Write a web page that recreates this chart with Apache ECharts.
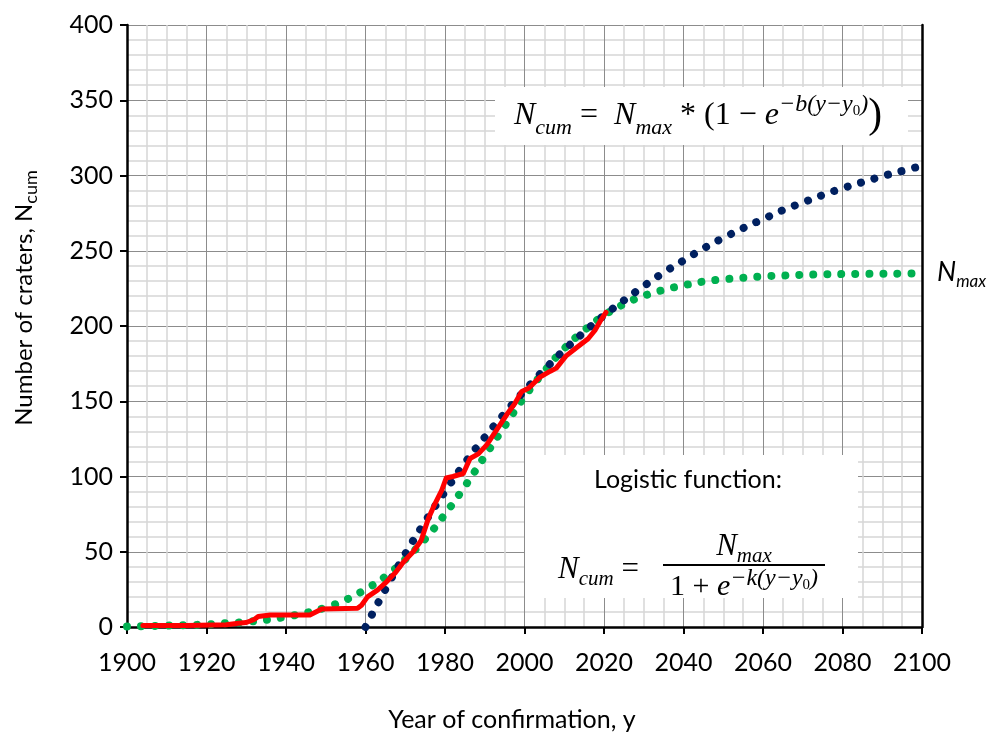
<!DOCTYPE html>
<html><head><meta charset="utf-8">
<script src="https://cdn.jsdelivr.net/npm/echarts@6/dist/echarts.min.js"></script>
<style>html,body{margin:0;padding:0;background:#fff}#c{width:988px;height:733px}</style>
</head><body><div id="c"></div>
<script>
// tick labels
const xTicks = [1900,1920,1940,1960,1980,2000,2020,2040,2060,2080,2100];
const yTicks = [0,50,100,150,200,250,300,350,400];

// observed cumulative number of craters (red line)
const redYears  = [1904,1915,1925,1928,1930,1932,1933,1936,1946,1949,1958,1959,1960.5,1963,1965.3,1967.5,1969.5,1972,1974,1975.8,1977.5,1979.2,1980.3,1982,1984.6,1986.3,1988.4,1990.5,1993,1995.5,1997.6,1999.3,2001,2003.9,2006.5,2008,2010.4,2013.3,2016,2017.7,2019,2020.5];
const redValues = [1,1,1.5,2.5,3,5,7,8,8,12,12.5,14.5,20,24.5,30,36,43,50,57.5,72,82,91,99,100,102,112,115,121,131,141,148.6,156.5,158.6,166,170,172,180,186,191.5,197,203,209];

// saturating exponential fit (dark blue dots)
const blueYears  = [1960,1965,1970,1975,1980,1985,1990,1995,2000,2005,2010,2015,2020,2025,2030,2035,2040,2045,2050,2055,2060,2065,2070,2075,2080,2085,2090,2095,2100];
const blueValues = [0,25,48.5,70,90,109,126,142,157,171,184,196,207,217,226.5,235.5,243.5,251.5,258.5,265,271,277,282,287,291.5,295.5,299.5,303,306.5];

// logistic fit (green dots)
const greenYears  = [1900,1905,1910,1915,1920,1925,1930,1935,1940,1945,1950,1955,1960,1965,1970,1975,1980,1985,1990,1995,2000,2005,2010,2015,2020,2025,2030,2035,2040,2045,2050,2055,2060,2065,2070,2075,2080,2085,2090,2095,2100];
const greenValues = [0.4,0.6,0.9,1.2,1.7,2.5,3.4,4.8,6.8,9.4,13,18,25,33.5,45,58.5,75,93.5,113.5,133.5,153,170,185,197,207,214.5,220,224,227,229.5,231,232,233,233.5,234,234.3,234.5,234.6,234.7,234.8,234.9];

const zip = (a, b) => a.map((v, i) => [v, b[i]]);
const SANS = 'Lato';
const SERIF = 'Liberation Serif';

const chart = echarts.init(document.getElementById('c'), null, {renderer: 'canvas'});

function axisCommon(ticks, minorN) {
  return {
    type: 'value',
    min: ticks[0], max: ticks[ticks.length - 1], interval: ticks[1] - ticks[0],
    axisLine: {show: true, onZero: false, lineStyle: {color: '#000', width: 2.5}},
    axisTick: {show: true, inside: false, length: 7, lineStyle: {color: '#000', width: 2}},
    axisLabel: {color: '#000', fontFamily: SANS, fontSize: 25, formatter: (v) => String(v)},
    splitLine: {show: true, lineStyle: {color: '#8c8c8c', width: 1}},
    minorTick: {show: false, splitNumber: minorN},
    minorSplitLine: {show: true, lineStyle: {color: '#d6d6d6', width: 1.5}}
  };
}

const xAxis = axisCommon(xTicks, 4);
xAxis.axisLabel.margin = 23;
const yAxis = axisCommon(yTicks, 5);
yAxis.axisLabel.margin = 14;

const dotted = (color) => ({color: color, width: 8, type: [0.01, 14], cap: 'round', join: 'round'});

function eqRich(main, sub, supSize, ssSize, lh) {
  return {
    i: {fontFamily: SERIF, fontStyle: 'italic', fontSize: main, lineHeight: lh, verticalAlign: 'middle', color: '#000'},
    n: {fontFamily: SERIF, fontSize: main, lineHeight: lh, verticalAlign: 'middle', color: '#000'},
    s: {fontFamily: SERIF, fontStyle: 'italic', fontSize: sub, lineHeight: sub + 1, verticalAlign: 'bottom', color: '#000'},
    sup: {fontFamily: SERIF, fontStyle: 'italic', fontSize: supSize, lineHeight: supSize + 2, verticalAlign: 'top', color: '#000'},
    ss: {fontFamily: SERIF, fontSize: ssSize, lineHeight: ssSize + 2, verticalAlign: 'top', padding: [Math.round(supSize * 0.45), 0, 0, 0], color: '#000'},
    p: {fontFamily: SERIF, fontSize: main * 1.3, lineHeight: lh, verticalAlign: 'middle', color: '#000'}
  };
}

chart.setOption({
  animation: false,
  backgroundColor: '#fff',
  grid: {left: 127, right: 66, top: 25, bottom: 106, containLabel: false},
  xAxis: xAxis,
  yAxis: [yAxis, {
    type: 'value', position: 'right', min: 0, max: 400,
    axisLine: {show: true, lineStyle: {color: '#000', width: 2.5}},
    axisTick: {show: false}, axisLabel: {show: false}, splitLine: {show: false}
  }],
  series: [
    {type: 'line', data: zip(greenYears, greenValues), showSymbol: false, smooth: true, lineStyle: dotted('#00B050'), z: 3},
    {type: 'line', data: zip(blueYears, blueValues), showSymbol: false, smooth: true, lineStyle: dotted('#002060'), z: 3},
    {type: 'line', data: zip(redYears, redValues), showSymbol: false, lineStyle: {color: '#FF0000', width: 5, join: 'round', cap: 'round'}, z: 5}
  ],
  graphic: [
    // top equation box
    {type: 'rect', z: 10, shape: {x: 495, y: 87, width: 413, height: 58}, style: {fill: '#fff'}},
    {type: 'text', z: 11, x: 514, y: 116, style: {
      text: '{i|N}{s|cum}{n| =  }{i|N}{s|max}{n| * (1 − }{i|e}{sup|−b(y−y}{ss|0}{sup|)}{p|)}',
      verticalAlign: 'middle', align: 'left',
      rich: eqRich(32, 22, 24, 15, 46)
    }},
    // logistic box
    {type: 'rect', z: 10, shape: {x: 525, y: 455, width: 333, height: 143}, style: {fill: '#fff'}},
    {type: 'text', z: 11, x: 688, y: 480, style: {text: 'Logistic function:', font: '25px ' + SANS, fill: '#000', align: 'center', verticalAlign: 'middle'}},
    {type: 'text', z: 11, x: 558, y: 570, style: {
      text: '{i|N}{s|cum}{n| =}', align: 'left', verticalAlign: 'middle',
      rich: eqRich(31, 21, 23, 15, 40)
    }},
    {type: 'text', z: 11, x: 744, y: 547, style: {
      text: '{i|N}{s|max}', align: 'center', verticalAlign: 'middle',
      rich: eqRich(31, 21, 23, 15, 40)
    }},
    {type: 'line', z: 11, shape: {x1: 663, y1: 565, x2: 825, y2: 565}, style: {stroke: '#000', lineWidth: 2}},
    {type: 'text', z: 11, x: 744, y: 587, style: {
      text: '{n|1 + }{i|e}{sup|−k(y−y}{ss|0}{sup|)}', align: 'center', verticalAlign: 'middle',
      rich: eqRich(30, 21, 24, 15, 40)
    }},
    // N_max label on the right
    {type: 'text', z: 11, x: 937, y: 272, style: {
      text: '{i|N}{s|max}', align: 'left', verticalAlign: 'middle',
      rich: {
        i: {fontFamily: SANS, fontStyle: 'italic', fontSize: 27, lineHeight: 36, verticalAlign: 'middle', color: '#000'},
        s: {fontFamily: SANS, fontStyle: 'italic', fontSize: 17, lineHeight: 18, verticalAlign: 'bottom', color: '#000'}
      }
    }},
    // axis titles
    {type: 'text', z: 11, x: 512, y: 720, style: {text: 'Year of confirmation, y', font: '25px ' + SANS, fill: '#000', align: 'center', verticalAlign: 'middle'}},
    {type: 'text', z: 11, x: 24, y: 298, rotation: Math.PI / 2, style: {
      text: '{a|Number of craters, N}{b|cum}', align: 'center', verticalAlign: 'middle',
      rich: {
        a: {fontFamily: SANS, fontSize: 24, lineHeight: 32, verticalAlign: 'middle', color: '#000'},
        b: {fontFamily: SANS, fontSize: 18, lineHeight: 18, verticalAlign: 'bottom', color: '#000'}
      }
    }}
  ]
});
</script>
</body></html>
